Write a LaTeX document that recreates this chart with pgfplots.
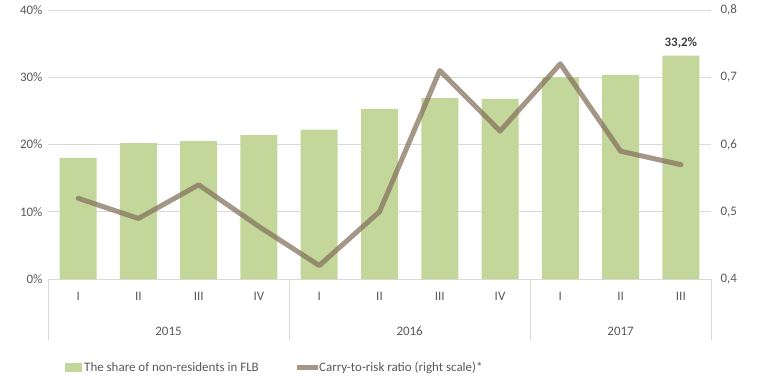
\documentclass[border=0pt]{standalone}
\usepackage{pgfplots}
\pgfplotsset{compat=1.18}
\usepackage{fontspec}
\setmainfont{Carlito}
\definecolor{txt}{RGB}{89,89,89}
\definecolor{grid}{RGB}{217,217,217}
\definecolor{bargreen}{RGB}{196,215,155}
\definecolor{carry}{RGB}{134,116,96}
\definecolor{lbl}{RGB}{64,64,64}
\begin{document}
\begin{tikzpicture}
\pgfplotsset{
  base/.style={
    scale only axis, width=663bp, height=269bp,
    xmin=-0.5, xmax=10.5,
    at={(0,0)}, anchor=south west,
    tick style={draw=none},
    ticklabel style={font=\fontsize{13}{16}\selectfont, text=txt},
    clip=false,
  }
}
\begin{axis}[base,
  ymin=0, ymax=40,
  axis x line*=bottom, axis y line*=left,
  x axis line style={draw=grid, line width=0.8bp, -},
  y axis line style={draw=none},
  ytick={0,10,20,30,40},
  yticklabels={0\%,10\%,20\%,30\%,40\%},
  yticklabel style={xshift=-2bp},
  ymajorgrids, major grid style={draw=grid, line width=0.8bp},
  xtick={0,...,10},
  xticklabels={I,II,III,IV,I,II,III,IV,I,II,III},
  xticklabel style={yshift=-10bp},
]
\addplot[ybar, bar width=37bp, fill=bargreen, draw=none] coordinates {
(0,18.0) (1,20.2) (2,20.5) (3,21.4) (4,22.2) (5,25.3) (6,26.9) (7,26.8) (8,30.0) (9,30.3) (10,33.2)};
\node[font=\fontsize{13}{16}\selectfont\bfseries, text=lbl, anchor=south, inner sep=0pt] at (axis cs:10,33.2) [yshift=7bp] {33,2\%};
\pgfplotsinvokeforeach{-0.5,3.5,7.5,10.5}{
  \draw[grid, line width=0.8bp] (axis cs:#1,0) -- ([yshift=-61bp]axis cs:#1,0);
}
\node[font=\fontsize{13}{16}\selectfont, text=txt] at (axis cs:1.5,0) [yshift=-52bp] {2015};
\node[font=\fontsize{13}{16}\selectfont, text=txt] at (axis cs:5.5,0) [yshift=-52bp] {2016};
\node[font=\fontsize{13}{16}\selectfont, text=txt] at (axis cs:9,0) [yshift=-52bp] {2017};
\end{axis}
\begin{axis}[base,
  ymin=0.4, ymax=0.8,
  axis y line*=right, axis x line=none,
  y axis line style={draw=none},
  ytick={0.4,0.5,0.6,0.7,0.8},
  yticklabels={{0,4},{0,5},{0,6},{0,7},{0,8}},
  yticklabel style={xshift=6bp},
]
\addplot[carry, opacity=0.75, line width=5bp, line join=round, line cap=round] coordinates {
(0,0.52) (1,0.49) (2,0.54) (3,0.478) (4,0.42) (5,0.50) (6,0.71) (7,0.62) (8,0.72) (9,0.59) (10,0.57)};
\end{axis}
% legend
\fill[bargreen] (17bp,-93bp) rectangle (34bp,-84bp);
\node[anchor=west, inner sep=0pt, font=\fontsize{13}{16}\selectfont, text=txt] at (36bp,-88.5bp) {The share of non-residents in FLB};
\draw[carry, opacity=0.75, line width=5bp] (249bp,-88.5bp) -- (270bp,-88.5bp);
\node[anchor=west, inner sep=0pt, font=\fontsize{13}{16}\selectfont, text=txt] at (271bp,-88.5bp) {Carry-to-risk ratio (right scale)*};
\pgfresetboundingbox
\path[use as bounding box] (-48bp,-105bp) rectangle (713bp,279bp);
\end{tikzpicture}
\end{document}
